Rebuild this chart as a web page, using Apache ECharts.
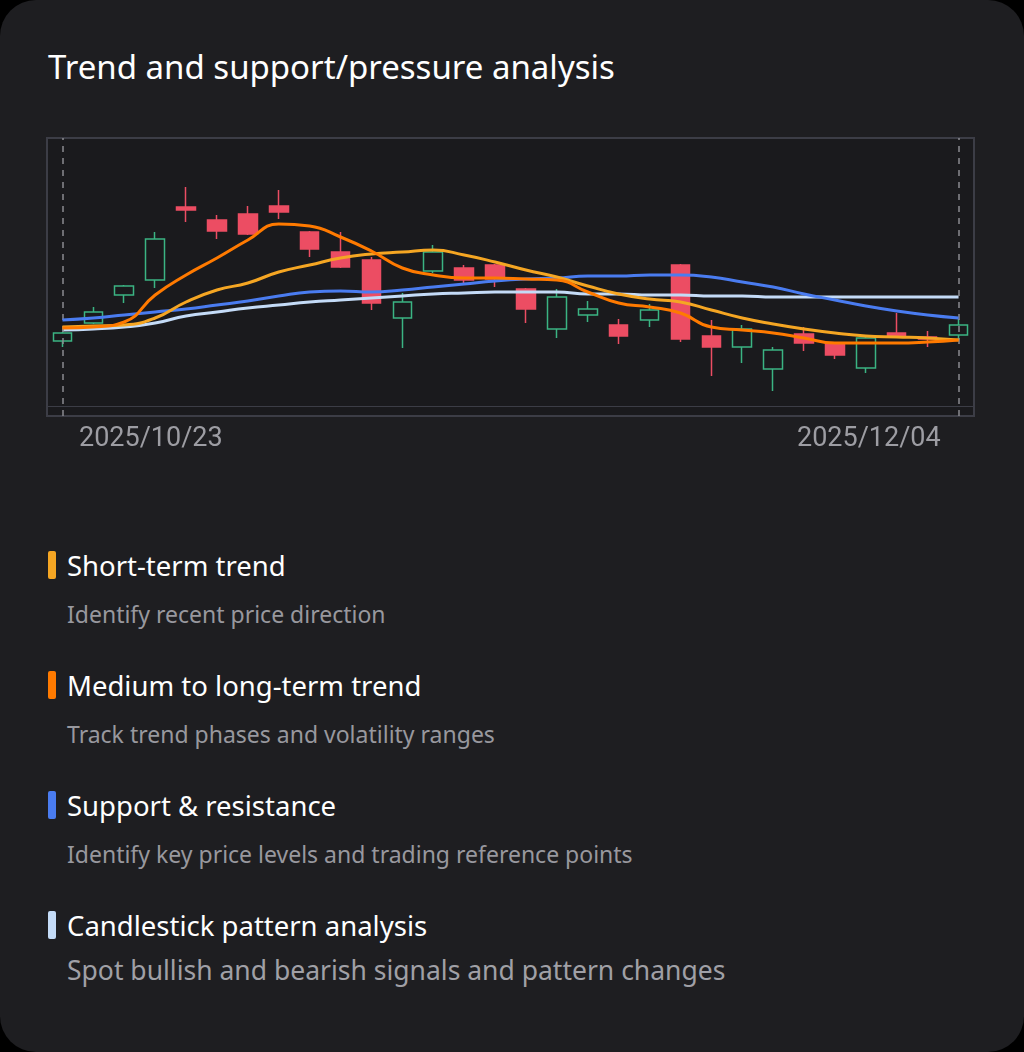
<!DOCTYPE html>
<html lang="en">
<head>
<meta charset="utf-8">
<title>Trend and support/pressure analysis</title>
<script src="https://cdn.jsdelivr.net/npm/echarts@6/dist/echarts.min.js"></script>
<style>
    html, body { margin: 0; padding: 0; background: #000; }
    .card { position: relative; width: 1024px; height: 1052px; background: #1e1e21; border-radius: 36px; overflow: hidden; font-family: "Noto Sans", sans-serif; }
    .title { position: absolute; left: 48px; top: 44px; color: #fff; font-size: 33px; }
    #chart { position: absolute; left: 0; top: 0; width: 1024px; height: 480px; }
    .items { position: absolute; left: 48px; top: 540px; }
    .item { height: 120px; }
    .item .head { display: flex; align-items: center; color: #fff; font-size: 27.5px; height: 50px; }
    .item .bar { width: 8px; height: 28px; border-radius: 2px; margin-right: 11px; }
    .item .sub { color: #98989e; font-size: 23px; margin-left: 19px; margin-top: 8px; }
    .item.last .sub { font-size: 26.5px; color: #a0a0a6; margin-top: 2px; }
</style>
</head>
<body>
<div class="card">
    <div class="title">Trend and support/pressure analysis</div>
    <div id="chart"></div>
    <div class="items">
        <div class="item"><div class="head"><div class="bar" style="background:#f5a623"></div>Short-term trend</div><div class="sub">Identify recent price direction</div></div>
        <div class="item"><div class="head"><div class="bar" style="background:#ff7a00"></div>Medium to long-term trend</div><div class="sub">Track trend phases and volatility ranges</div></div>
        <div class="item"><div class="head"><div class="bar" style="background:#4a7cf0"></div>Support &amp; resistance</div><div class="sub">Identify key price levels and trading reference points</div></div>
        <div class="item last"><div class="head"><div class="bar" style="background:#c4dbf7"></div>Candlestick pattern analysis</div><div class="sub">Spot bullish and bearish signals and pattern changes</div></div>
    </div>
</div>
<script>
    var dates = ['2025/10/23','2025/10/24','2025/10/27','2025/10/28','2025/10/29','2025/10/30','2025/10/31',
        '2025/11/03','2025/11/04','2025/11/05','2025/11/06','2025/11/07','2025/11/10','2025/11/11','2025/11/12',
        '2025/11/13','2025/11/14','2025/11/17','2025/11/18','2025/11/19','2025/11/20','2025/11/21','2025/11/24',
        '2025/11/25','2025/11/26','2025/11/28','2025/12/01','2025/12/02','2025/12/03','2025/12/04'];
    // [open, close, low, high]
    var candles = [
        [10.9,11.7,10.3,11.8],[12.7,13.8,12.6,14.3],[15.5,16.4,14.7,16.5],[17.0,21.1,16.2,21.8],
        [24.3,24.0,22.8,26.3],[23.0,21.9,21.1,23.5],[23.6,21.6,21.5,24.4],[24.4,23.8,23.1,26.0],
        [21.8,20.1,19.3,21.9],[19.8,18.3,18.2,21.8],[19.0,14.7,14.0,19.3],[13.2,14.8,10.2,15.7],
        [17.9,19.8,17.7,20.5],[18.2,17.0,16.6,18.5],[18.5,17.1,16.3,18.6],[16.1,14.1,12.7,16.2],
        [12.1,15.3,11.2,16.1],[13.5,14.1,12.8,14.9],[12.5,11.4,10.6,13.1],[13.0,14.0,12.3,14.6],
        [18.5,11.1,10.8,18.6],[11.4,10.3,7.4,13.0],[10.3,12.1,8.7,12.5],[8.1,10.0,5.9,10.3],
        [11.6,10.7,9.9,12.3],[10.7,9.5,9.1,10.8],[8.2,11.2,7.7,11.3],[11.7,11.4,11.3,13.7],
        [11.3,11.1,10.3,11.9],[11.5,12.5,11.0,13.1]
    ];
    var mediumTrend = [12.2,12.3,12.8,15.5,17.5,19.2,21.0,22.6,22.4,21.3,19.9,18.2,17.5,17.2,17.2,
        17.1,17.0,15.8,14.7,14.3,13.7,12.3,12.0,11.7,11.2,10.7,10.7,10.7,10.8,11.0];
    var shortTrend = [12.3,12.4,12.5,13.2,14.8,16.0,16.7,17.8,18.5,19.2,19.6,19.8,20.0,19.5,18.8,
        18.0,17.3,16.4,15.6,15.1,14.8,14.0,13.2,12.6,12.1,11.7,11.4,11.3,11.2,11.0];
    var supportLine = [13.0,13.2,13.5,13.8,14.1,14.5,14.9,15.4,15.8,15.9,15.8,16.0,16.3,16.6,16.9,
        17.1,17.2,17.4,17.4,17.5,17.5,17.3,16.8,16.3,15.6,15.0,14.4,13.9,13.5,13.2];
    var patternLine = [12.0,12.1,12.3,12.7,13.4,13.8,14.2,14.5,14.8,15.0,15.2,15.4,15.6,15.7,15.8,
        15.8,15.8,15.6,15.6,15.5,15.5,15.4,15.4,15.3,15.3,15.3,15.3,15.3,15.3,15.3];

    var chart = echarts.init(document.getElementById('chart'));

    function line(name, data, color, z) {
        return {
            name: name, type: 'line', data: data, smooth: true, symbol: 'none', z: z,
            lineStyle: { color: color, width: 3 }
        };
    }

    chart.setOption({
        animation: false,
        backgroundColor: 'transparent',
        grid: { left: 47, right: 50, top: 138, height: 278, show: true, borderColor: '#3c3d46', borderWidth: 2, backgroundColor: '#1a1a1d' },
        xAxis: {
            type: 'category', data: dates, boundaryGap: true,
            axisLine: { show: false }, axisTick: { show: false }, axisLabel: { show: false }, splitLine: { show: false }
        },
        yAxis: { type: 'value', min: 3.4, max: 31.2, show: false, splitLine: { show: false } },
        graphic: [
            { type: 'text', left: 79, top: 426, style: { text: dates[0], fill: '#9d9da3', font: '27px Roboto' } },
            { type: 'text', left: 797, top: 426, style: { text: dates[dates.length - 1], fill: '#9d9da3', font: '27px Roboto' } },
            { type: 'rect', shape: { x: 48, y: 406, width: 925, height: 1 }, style: { fill: '#3c3d46' } }
        ],
        series: [
            {
                type: 'candlestick', data: candles, barWidth: 19, z: 3,
                itemStyle: { color: '#1a1a1d', color0: '#ec4d63', borderColor: '#3bb483', borderColor0: '#ec4d63', borderWidth: 1.5 },
                markLine: {
                    silent: true, symbol: 'none', label: { show: false },
                    lineStyle: { color: '#8a8a90', type: [6, 6], width: 1.5 },
                    data: [{ xAxis: dates[0] }, { xAxis: dates[dates.length - 1] }]
                }
            },
            line('Candlestick pattern analysis', patternLine, '#c4dbf7', 4),
            line('Support & resistance', supportLine, '#4a7cf0', 5),
            line('Short-term trend', shortTrend, '#f5a623', 6),
            line('Medium to long-term trend', mediumTrend, '#ff7a00', 7)
        ]
    });
</script>
</body>
</html>
